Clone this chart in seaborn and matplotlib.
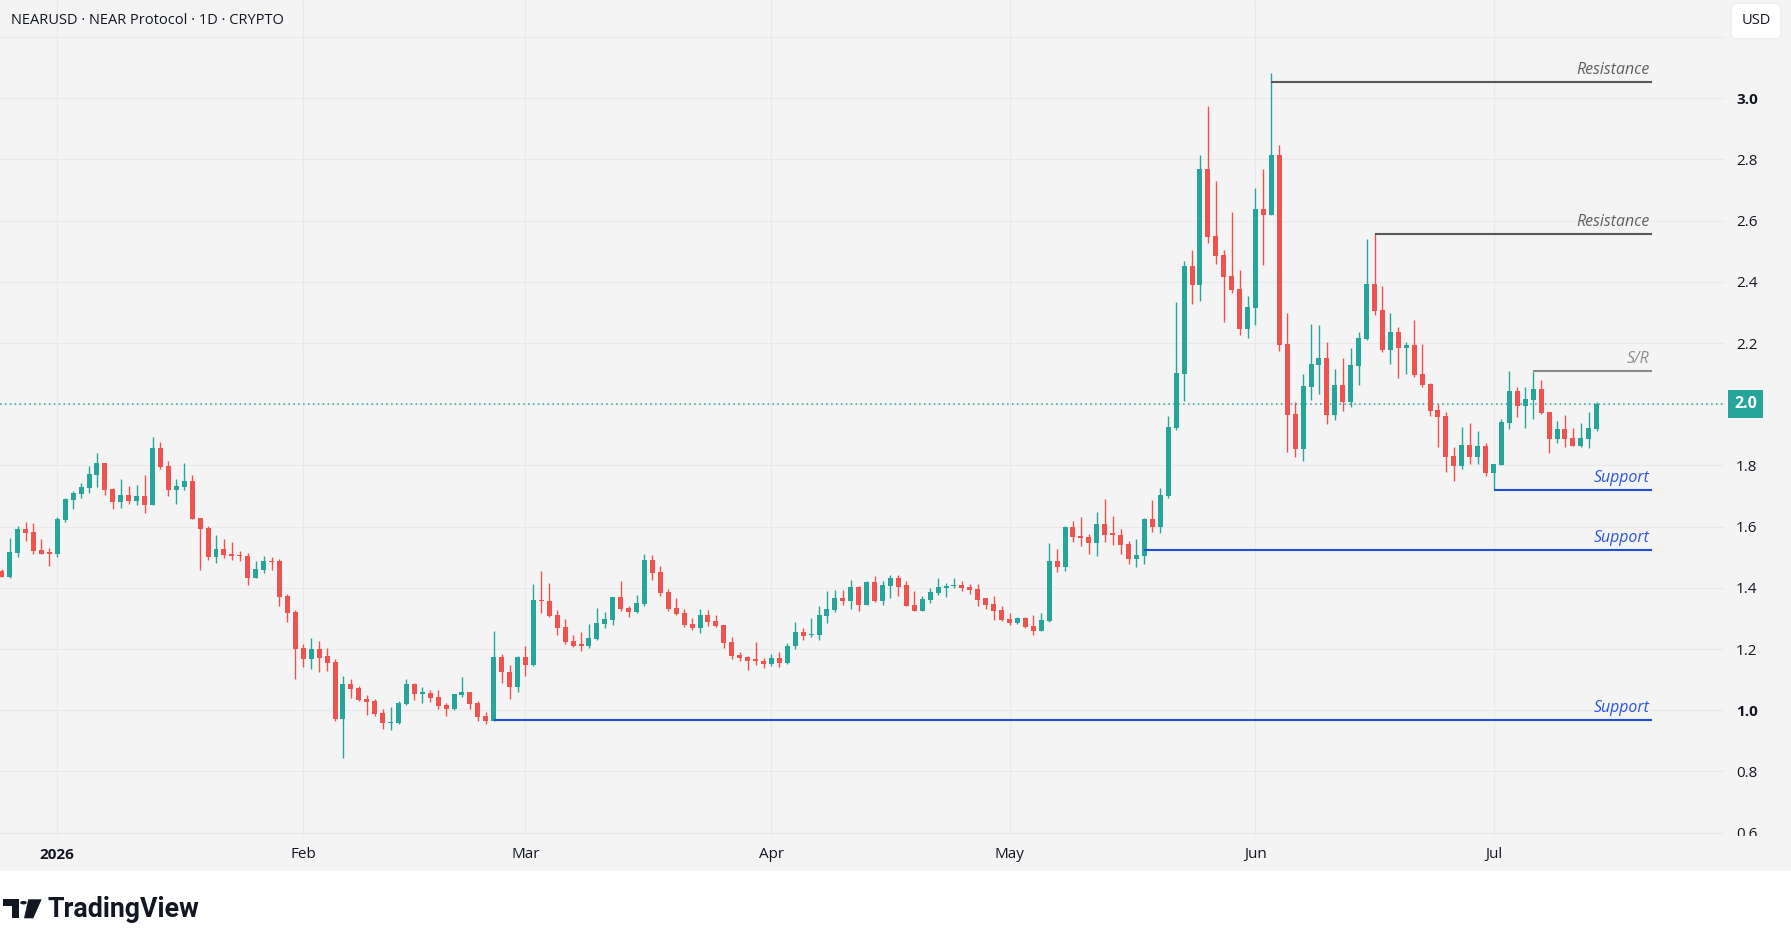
import pandas as pd
import numpy as np
import seaborn as sns
import matplotlib.pyplot as plt
import matplotlib.dates as mdates
from matplotlib.patches import Rectangle, Polygon, Circle
from matplotlib.transforms import blended_transform_factory

# daily candles, NEARUSD
dates = pd.date_range('2025-12-25', '2026-07-14', freq='D')
opens = [1.455, 1.436, 1.515, 1.592, 1.582, 1.524, 1.514,
         1.512, 1.623, 1.688, 1.708, 1.727, 1.770, 1.808, 1.723, 1.682, 1.703, 1.685, 1.700, 1.672, 1.857, 1.798, 1.721,
         1.730, 1.749, 1.628, 1.595, 1.502, 1.527, 1.510, 1.507, 1.504, 1.433, 1.459, 1.488, 1.488, 1.373, 1.321,
         1.203, 1.168, 1.200, 1.177, 1.157, 0.972, 1.086, 1.073, 1.037, 1.030, 0.991, 0.959, 0.959, 1.021, 1.086, 1.054,
         1.056, 1.043, 1.017, 1.005, 1.051, 1.059, 1.024, 0.981, 0.966, 1.174, 1.126, 1.075,
         1.174, 1.148, 1.360, 1.357, 1.311, 1.272, 1.226, 1.213, 1.211, 1.233, 1.283, 1.295, 1.370, 1.334, 1.321, 1.348,
         1.491, 1.452, 1.386, 1.334, 1.318, 1.282, 1.269, 1.311, 1.291, 1.278, 1.223, 1.181, 1.175, 1.165, 1.162,
         1.150, 1.170, 1.155, 1.210, 1.256, 1.246, 1.246, 1.308, 1.327, 1.367, 1.357, 1.403, 1.344, 1.419, 1.357, 1.406,
         1.432, 1.409, 1.344, 1.324, 1.360, 1.383, 1.399, 1.406, 1.409, 1.403, 1.396, 1.367, 1.347, 1.327,
         1.298, 1.285, 1.301, 1.275, 1.259, 1.292, 1.488, 1.468, 1.600, 1.570, 1.566, 1.548, 1.609, 1.577, 1.574, 1.544,
         1.495, 1.505, 1.626, 1.600, 1.701, 1.923, 2.100, 2.452, 2.391, 2.769, 2.550, 2.488, 2.419, 2.377, 2.247,
         2.315, 2.638, 2.619, 2.814, 2.197, 1.968, 1.855, 2.056, 2.128, 2.151, 1.965, 2.063, 2.007, 2.125, 2.213, 2.393,
         2.308, 2.177, 2.236, 2.184, 2.194, 2.099, 2.066, 1.981, 1.961, 1.831, 1.798, 1.867, 1.827, 1.863,
         1.775, 1.801, 1.939, 2.043, 1.994, 2.014, 2.050, 1.974, 1.886, 1.919, 1.889, 1.863, 1.886, 1.919]
highs = [1.460, 1.563, 1.602, 1.615, 1.612, 1.560, 1.530,
         1.630, 1.693, 1.717, 1.742, 1.798, 1.841, 1.808, 1.727, 1.756, 1.734, 1.737, 1.770, 1.893, 1.877, 1.814, 1.756,
         1.808, 1.769, 1.628, 1.602, 1.573, 1.560, 1.550, 1.520, 1.514, 1.488, 1.504, 1.501, 1.494, 1.380, 1.327,
         1.216, 1.236, 1.226, 1.203, 1.167, 1.112, 1.102, 1.079, 1.050, 1.037, 1.004, 1.010, 1.030, 1.102, 1.089, 1.076,
         1.066, 1.066, 1.024, 1.053, 1.108, 1.059, 1.030, 0.994, 1.260, 1.185, 1.147, 1.177,
         1.210, 1.412, 1.455, 1.416, 1.327, 1.298, 1.246, 1.256, 1.282, 1.334, 1.321, 1.370, 1.422, 1.341, 1.376, 1.510,
         1.507, 1.471, 1.396, 1.367, 1.331, 1.301, 1.331, 1.327, 1.311, 1.278, 1.239, 1.190, 1.177, 1.223, 1.170,
         1.185, 1.190, 1.220, 1.288, 1.269, 1.301, 1.341, 1.390, 1.393, 1.393, 1.426, 1.406, 1.422, 1.439, 1.422, 1.442,
         1.442, 1.422, 1.390, 1.373, 1.399, 1.432, 1.416, 1.432, 1.422, 1.413, 1.413, 1.367, 1.373, 1.341,
         1.318, 1.305, 1.305, 1.311, 1.318, 1.546, 1.527, 1.603, 1.619, 1.632, 1.577, 1.649, 1.691, 1.636, 1.593, 1.554,
         1.561, 1.629, 1.688, 1.727, 1.963, 2.335, 2.468, 2.504, 2.814, 2.975, 2.729, 2.504, 2.628, 2.439, 2.354,
         2.707, 2.769, 3.082, 2.847, 2.299, 2.008, 2.100, 2.262, 2.259, 2.203, 2.115, 2.151, 2.184, 2.236, 2.540, 2.560,
         2.386, 2.298, 2.252, 2.203, 2.275, 2.197, 2.069, 2.001, 1.974, 1.860, 1.925, 1.938, 1.912, 1.873,
         1.805, 1.952, 2.109, 2.056, 2.056, 2.105, 2.079, 1.974, 1.945, 1.965, 1.922, 1.938, 1.974, 2.007]
lows = [1.435, 1.433, 1.502, 1.553, 1.511, 1.512, 1.472,
        1.502, 1.616, 1.659, 1.693, 1.711, 1.731, 1.704, 1.659, 1.662, 1.675, 1.672, 1.646, 1.672, 1.789, 1.701, 1.675,
        1.721, 1.626, 1.459, 1.492, 1.482, 1.498, 1.491, 1.487, 1.409, 1.433, 1.449, 1.459, 1.342, 1.289, 1.103,
        1.142, 1.136, 1.126, 1.129, 0.966, 0.845, 1.041, 1.031, 0.985, 0.982, 0.940, 0.936, 0.956, 1.018, 1.034, 1.025,
        1.028, 1.005, 0.982, 1.002, 1.043, 1.005, 0.966, 0.956, 0.966, 1.090, 1.035, 1.060,
        1.112, 1.144, 1.319, 1.305, 1.247, 1.217, 1.208, 1.195, 1.204, 1.229, 1.270, 1.280, 1.324, 1.305, 1.318, 1.341,
        1.425, 1.373, 1.324, 1.311, 1.272, 1.262, 1.252, 1.275, 1.271, 1.203, 1.167, 1.161, 1.131, 1.148, 1.138,
        1.145, 1.140, 1.150, 1.200, 1.230, 1.239, 1.229, 1.285, 1.321, 1.344, 1.331, 1.324, 1.344, 1.354, 1.344, 1.367,
        1.373, 1.341, 1.324, 1.324, 1.350, 1.377, 1.370, 1.399, 1.390, 1.380, 1.341, 1.331, 1.295, 1.292,
        1.278, 1.282, 1.269, 1.246, 1.259, 1.288, 1.452, 1.455, 1.551, 1.538, 1.512, 1.505, 1.551, 1.541, 1.512, 1.479,
        1.469, 1.479, 1.583, 1.580, 1.694, 1.917, 2.012, 2.329, 2.338, 2.528, 2.459, 2.270, 2.364, 2.227, 2.217,
        2.260, 2.456, 2.619, 2.175, 1.845, 1.828, 1.815, 2.014, 2.033, 1.935, 1.948, 1.978, 1.991, 2.063, 2.210, 2.292,
        2.171, 2.131, 2.086, 2.099, 2.089, 2.056, 1.961, 1.860, 1.778, 1.749, 1.788, 1.804, 1.804, 1.765,
        1.720, 1.801, 1.919, 1.958, 1.922, 1.952, 1.968, 1.840, 1.873, 1.860, 1.863, 1.860, 1.857, 1.912]
closes = [1.436, 1.517, 1.592, 1.580, 1.521, 1.512, 1.512,
          1.625, 1.690, 1.710, 1.729, 1.772, 1.808, 1.721, 1.682, 1.703, 1.685, 1.700, 1.672, 1.857, 1.796, 1.721, 1.733,
          1.749, 1.626, 1.593, 1.502, 1.527, 1.508, 1.505, 1.504, 1.433, 1.461, 1.488, 1.484, 1.371, 1.319, 1.201,
          1.168, 1.200, 1.171, 1.155, 0.972, 1.086, 1.070, 1.034, 1.027, 0.989, 0.959, 0.961, 1.024, 1.086, 1.054, 1.056,
          1.041, 1.015, 1.005, 1.053, 1.059, 1.021, 0.979, 0.966, 1.174, 1.126, 1.075, 1.174,
          1.148, 1.360, 1.357, 1.307, 1.270, 1.224, 1.211, 1.211, 1.236, 1.285, 1.298, 1.370, 1.331, 1.321, 1.350, 1.491,
          1.449, 1.384, 1.331, 1.315, 1.278, 1.269, 1.311, 1.288, 1.275, 1.220, 1.177, 1.171, 1.162, 1.162, 1.150,
          1.170, 1.155, 1.210, 1.256, 1.243, 1.249, 1.311, 1.331, 1.367, 1.357, 1.403, 1.344, 1.419, 1.357, 1.409, 1.432,
          1.403, 1.341, 1.324, 1.363, 1.386, 1.403, 1.406, 1.409, 1.399, 1.393, 1.360, 1.344, 1.324, 1.295,
          1.285, 1.301, 1.272, 1.259, 1.295, 1.488, 1.468, 1.600, 1.567, 1.564, 1.548, 1.609, 1.574, 1.574, 1.541, 1.495,
          1.508, 1.626, 1.600, 1.702, 1.924, 2.102, 2.452, 2.391, 2.769, 2.547, 2.485, 2.417, 2.374, 2.247, 2.318,
          2.638, 2.619, 2.814, 2.194, 1.966, 1.855, 2.060, 2.131, 2.151, 1.965, 2.063, 2.007, 2.128, 2.216, 2.393, 2.305,
          2.177, 2.236, 2.184, 2.194, 2.095, 2.063, 1.978, 1.958, 1.827, 1.798, 1.867, 1.827, 1.863, 1.775,
          1.805, 1.942, 2.043, 1.994, 2.017, 2.050, 1.971, 1.886, 1.919, 1.886, 1.863, 1.889, 1.922, 2.001]

# drawn levels
level_names = ['Resistance', 'Resistance', 'S/R', 'Support', 'Support', 'Support']
level_values = [3.053, 2.557, 2.108, 1.720, 1.525, 0.969]
level_starts = ['2026-06-03', '2026-06-16', '2026-07-06', '2026-07-01', '2026-05-18', '2026-02-25']
level_end = '2026-07-21'
last_price = 2.001

price_ticks = [0.6, 0.8, 1.0, 1.2, 1.4, 1.6, 1.8, 2.0, 2.2, 2.4, 2.6, 2.8, 3.0, 3.2]
hidden_ticks = [2.0, 3.2]
bold_ticks = [1.0, 3.0]
month_ticks = ['2026-01-01', '2026-02-01', '2026-03-01', '2026-04-01', '2026-05-01', '2026-06-01', '2026-07-01']
month_labels = ['2026', 'Feb', 'Mar', 'Apr', 'May', 'Jun', 'Jul']

up_color = '#26a69a'
down_color = '#ef5350'
bg = '#f4f4f4'
grid_color = '#e9e9e9'
level_colors = {'Resistance': '#575757', 'S/R': '#8a8a8a', 'Support': '#1f4fd8'}
label_colors = {'Resistance': '#606060', 'S/R': '#8e8e8e', 'Support': '#2a55dd'}

W, H = 1791, 947
PLOT_BOTTOM = 836


def fig_box(x0, y0, x1, y1):
    return [x0 / W, 1 - y1 / H, (x1 - x0) / W, (y1 - y0) / H]


def near(t, vals):
    return any(abs(t - v) < 1e-9 for v in vals)


sns.set_theme(style='whitegrid')
plt.rcParams['font.family'] = ['Open Sans', 'DejaVu Sans']

df = pd.DataFrame({'date': dates, 'open': opens, 'high': highs, 'low': lows, 'close': closes})
df['x'] = mdates.date2num(df['date'])
df['color'] = np.where(df['close'] >= df['open'], up_color, down_color)
df['body_low'] = df[['open', 'close']].min(axis=1)
df['body_h'] = (df['close'] - df['open']).abs().clip(lower=0.004)

fig = plt.figure(figsize=(W / 100, H / 100), dpi=100, facecolor='white')
fig.patches.append(Rectangle((0, 1 - 871 / H), 1, 871 / H, transform=fig.transFigure,
                             facecolor=bg, edgecolor='none', zorder=-5))

ax = fig.add_axes(fig_box(0, 0, 1725, PLOT_BOTTOM), zorder=1)
ax.set_facecolor(bg)

# x scale: Jan 1 sits 57 px in, ~7.94 px per day; y: 306 px per unit, 3.0 at 98 px
jan1 = mdates.date2num(pd.Timestamp('2026-01-01'))
ppd = 7.935
ax.set_xlim(jan1 - 57.3 / ppd, jan1 + (1725 - 57.3) / ppd)
ax.set_ylim(3.0 - (PLOT_BOTTOM - 98.2) / 306, 3.0 + 98.2 / 306)

ax.vlines(df['x'], df['low'], df['high'], colors=df['color'], lw=1.0, zorder=3)
ax.bar(df['x'], df['body_h'], bottom=df['body_low'], width=0.63, color=df['color'], lw=0, zorder=4)

# level lines + labels
for name, val, start in zip(level_names, level_values, level_starts):
    x0 = mdates.date2num(pd.Timestamp(start))
    x1 = mdates.date2num(pd.Timestamp(level_end))
    ax.plot([x0, x1], [val, val], color=level_colors[name], lw=1.5, zorder=5, solid_capstyle='butt')
    ax.annotate(name, xy=(x1, val), xytext=(-3, 4), textcoords='offset pixels',
                ha='right', va='bottom', fontsize=11.4, fontstyle='italic',
                color=label_colors[name], zorder=6)

# last price
ax.axhline(last_price, color=up_color, lw=1.1, ls=(0, (1, 2.2)), zorder=2)
ax.annotate('2.0', xy=(1.0, last_price), xycoords=blended_transform_factory(ax.transAxes, ax.transData),
            xytext=(9, 0), textcoords='offset pixels', ha='left', va='center', color='white',
            fontsize=11.5, fontweight='bold', annotation_clip=False, zorder=10,
            bbox=dict(boxstyle='square,pad=0.36', fc=up_color, ec='none'))

ax.set_xticks(mdates.date2num(pd.to_datetime(month_ticks)))
ax.tick_params(axis='x', labelbottom=False, length=0)
ax.yaxis.tick_right()
ax.set_yticks(price_ticks)
ax.set_yticklabels(['' if near(t, hidden_ticks) else f'{t:.1f}' for t in price_ticks])
ax.tick_params(axis='y', length=0, pad=8, labelsize=11, labelcolor='#131722')
for t, lab in zip(price_ticks, ax.get_yticklabels()):
    if near(t, bold_ticks):
        lab.set_fontweight('bold')
ax.grid(True, color=grid_color, lw=0.8)
ax.set_axisbelow(True)
for s in ax.spines.values():
    s.set_visible(False)
ax.set_xlabel('')
ax.set_ylabel('')

# time axis strip
ax2 = fig.add_axes(fig_box(0, PLOT_BOTTOM, W, 871), zorder=3)
ax2.set_facecolor(bg)
ax2.set_xlim(jan1 - 57.3 / ppd, jan1 + (W - 57.3) / ppd)
ax2.set_ylim(0, 1)
ax2.set_xticks([])
ax2.set_yticks([])
ax2.grid(False)
for s in ax2.spines.values():
    s.set_visible(False)
for d, lab in zip(month_ticks, month_labels):
    ax2.text(mdates.date2num(pd.Timestamp(d)), 0.46, lab, transform=ax2.transData,
             ha='center', va='center', fontsize=11, color='#131722',
             fontweight='bold' if lab == '2026' else 'normal')

fig.text(11 / W, 1 - 20.5 / H, 'NEARUSD · NEAR Protocol · 1D · CRYPTO', ha='left', va='center',
         fontsize=10.5, color='#131722', zorder=6)
fig.text(1756 / W, 1 - 21 / H, 'USD', ha='center', va='center', fontsize=10.5, color='#131722', zorder=6,
         bbox=dict(boxstyle='round,pad=0.7,rounding_size=0.45', fc='white', ec='#ebebeb', lw=0.6))

# TradingView mark
ink = '#131722'
fig.patches.append(Polygon([(3.3 / W, 1 - 899.3 / H), (19.3 / W, 1 - 899.3 / H), (19.3 / W, 1 - 918.3 / H),
                            (11.7 / W, 1 - 918.3 / H), (11.7 / W, 1 - 906 / H), (3.3 / W, 1 - 906 / H)],
                           closed=True, transform=fig.transFigure, fc=ink, ec='none', zorder=5))
fig.patches.append(Circle((23.5 / W, 1 - 902.7 / H), 3.3 / W, transform=fig.transFigure, fc=ink, ec='none', zorder=5))
fig.patches.append(Polygon([(28.3 / W, 1 - 899.3 / H), (41.7 / W, 1 - 899.3 / H), (33.3 / W, 1 - 918.3 / H),
                            (24 / W, 1 - 918.3 / H)],
                           closed=True, transform=fig.transFigure, fc=ink, ec='none', zorder=5))
fig.text(48 / W, 1 - 909 / H, 'TradingView', ha='left', va='center', fontsize=19.3, fontweight='bold',
         family='Roboto', color=ink)

plt.savefig('out.png', dpi=100, facecolor='white')
